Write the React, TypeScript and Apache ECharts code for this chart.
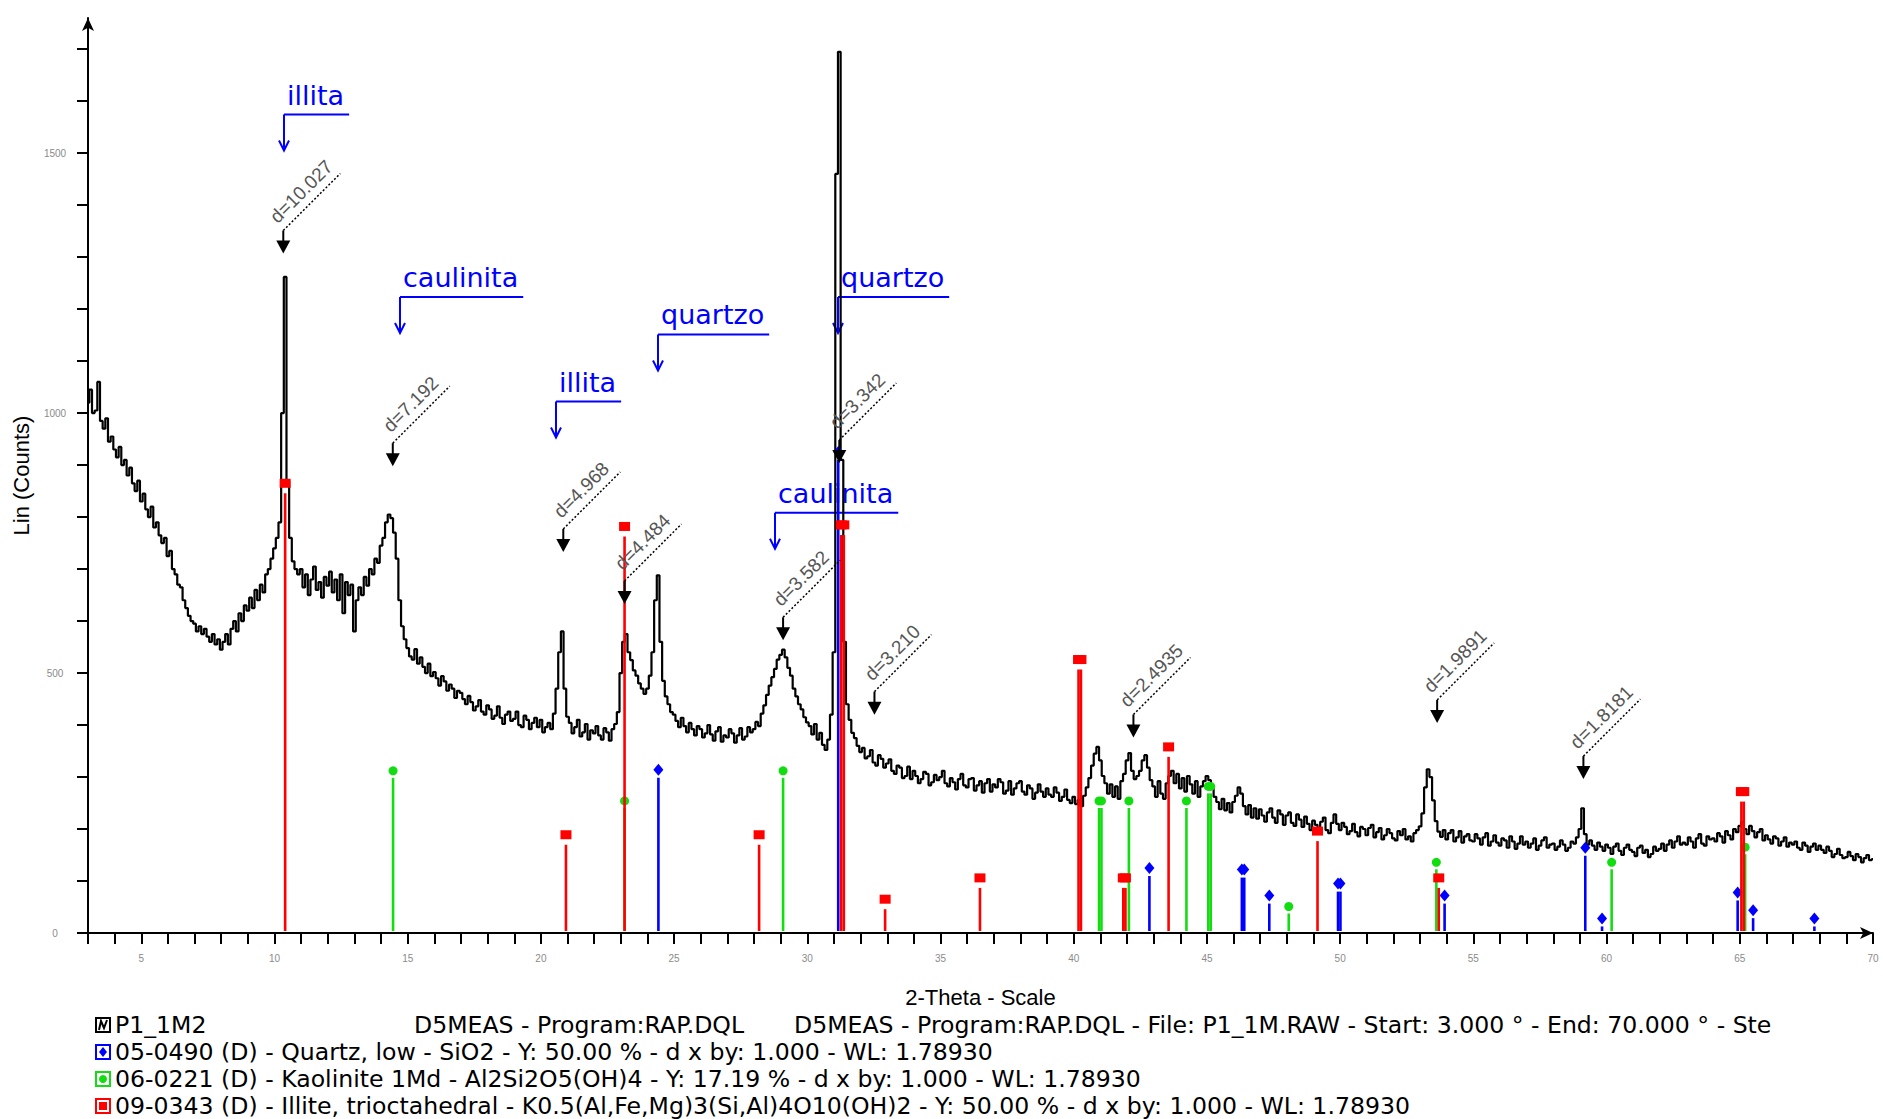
import React, { useEffect, useRef } from "react";
import * as echarts from "echarts";

// ---------- scan (diffractogram) ----------
const SCAN_START = 3.0;
const SCAN_STEP = 0.1;
const PATTERN_COUNTS = [
  1020, 1045, 1000, 1005, 1060, 985, 970, 990, 945, 955,
  930, 915, 935, 900, 910, 880, 895, 865, 850, 870,
  830, 845, 815, 800, 820, 780, 790, 765, 750, 760,
  725, 735, 700, 690, 670, 665, 640, 625, 610, 600,
  595, 580, 590, 575, 585, 570, 560, 575, 555, 565,
  545, 560, 575, 555, 585, 600, 580, 615, 600, 630,
  620, 645, 625, 660, 640, 670, 655, 690, 700, 720,
  740, 760, 790, 1000, 1262, 870, 760, 715, 700, 690,
  700, 665, 690, 650, 680, 705, 660, 675, 645, 685,
  668, 695, 655, 680, 640, 690, 615, 675, 650, 670,
  580, 640, 665, 650, 685, 668, 700, 690, 720, 712,
  745, 760, 790, 805, 798, 770, 720, 640, 590, 565,
  548, 532, 526, 546, 518, 530, 512, 500, 518, 494,
  502, 490, 476, 494, 484, 466, 478, 470, 452, 466,
  462, 450, 440, 456, 444, 428, 436, 448, 426, 420,
  438, 430, 412, 418, 436, 414, 402, 420, 426, 408,
  412, 426, 400, 396, 418, 410, 392, 404, 414, 396,
  410, 386, 396, 404, 392, 422, 470, 540, 580, 470,
  416, 404, 384, 396, 410, 378, 386, 402, 372, 390,
  384, 398, 380, 372, 394, 386, 370, 392, 402, 425,
  500, 560, 575, 540, 525, 505, 495, 480, 470, 460,
  470, 495, 540, 640, 688, 560, 485, 455, 440, 425,
  420, 408, 396, 414, 398, 386, 404, 392, 380, 398,
  392, 376, 384, 400, 382, 370, 388, 396, 368, 380,
  376, 392, 384, 366, 380, 394, 372, 378, 396, 386,
  392, 406, 398, 422, 438, 458, 476, 492, 508, 526,
  535, 545, 530, 510, 495, 470, 455, 440, 430, 415,
  405, 398, 382, 402, 372, 385, 362, 352, 372, 420,
  540, 1460, 1695, 910, 560, 440, 410, 385, 375, 360,
  348, 356, 336, 340, 352, 328, 322, 342, 335, 318,
  326, 334, 312, 306, 322, 318, 298, 302, 320, 296,
  312, 302, 288, 296, 310, 306, 284, 290, 304, 294,
  300, 312, 288, 282, 298, 290, 276, 296, 306, 284,
  280, 296, 298, 274, 284, 292, 270, 288, 296, 272,
  286, 280, 296, 290, 268, 274, 292, 266, 278, 288,
  292, 272, 266, 284, 278, 258, 270, 286, 272, 262,
  278, 266, 262, 280, 270, 254, 262, 276, 256, 250,
  262, 248, 256, 244, 264, 280, 298, 322, 345, 358,
  332, 302, 288, 268, 286, 262, 282, 258, 292, 306,
  332, 346, 312, 296, 302, 312, 332, 342, 318, 294,
  282, 262, 292, 268, 258, 288, 302, 312, 288, 306,
  278, 298, 272, 302, 286, 268, 292, 262, 282, 292,
  302, 294, 278, 262, 252, 238, 258, 236, 250, 232,
  252, 264, 280, 268, 244, 228, 246, 222, 240, 220,
  238, 226, 214, 232, 240, 222, 212, 236, 228, 208,
  226, 232, 212, 206, 228, 218, 204, 224, 210, 198,
  216, 208, 196, 214, 222, 198, 192, 212, 228, 210,
  198, 212, 204, 190, 196, 210, 194, 186, 204, 200,
  188, 202, 208, 184, 194, 202, 180, 188, 200, 192,
  182, 178, 196, 188, 200, 180, 186, 176, 192, 198,
  205, 230, 280, 315, 300, 255, 215, 195, 185, 198,
  180, 192, 198, 176, 184, 196, 174, 186, 190, 178,
  176, 190, 182, 170, 184, 192, 168, 176, 188, 174,
  168, 182, 178, 164, 186, 176, 162, 172, 186, 170,
  176, 164, 172, 182, 160, 168, 178, 184, 164, 170,
  172, 160, 166, 178, 170, 158, 164, 176, 172, 184,
  200, 240, 190, 170, 178, 168, 160, 174, 166, 158,
  170, 164, 152, 166, 172, 158, 150, 164, 170, 160,
  156, 148, 164, 168, 154, 160, 146, 152, 166, 158,
  162, 172, 158, 170, 178, 164, 176, 186, 170, 174,
  170, 184, 176, 164, 182, 190, 172, 168, 186, 180,
  182, 176, 192, 186, 174, 196, 188, 180, 200, 194,
  206, 214, 200, 190, 206, 196, 184, 194, 200, 178,
  188, 180, 172, 186, 182, 168, 176, 184, 166, 174,
  170, 176, 164, 160, 174, 168, 156, 166, 172, 160,
  168, 160, 154, 166, 158, 146, 152, 162, 150, 144,
  146, 156, 148, 140, 152, 146, 136, 144, 150, 140,
  142,
];

// ---------- reference patterns (stick lines) ----------
const QUARTZ_THETA = [24.41, 31.16, 42.84, 46.31, 46.4, 47.34, 49.92, 50.01, 53.92, 59.2, 59.83, 64.92, 65.5, 67.8];
const QUARTZ_INT = [314, 925, 125, 122, 122, 72, 95, 95, 72, 164, 28, 78, 44, 28];

const KAOLINITE_THETA = [14.45, 23.14, 29.09, 40.95, 41.04, 42.07, 44.23, 45.05, 45.14, 48.07, 53.61, 60.19, 65.2];
const KAOLINITE_INT = [312, 254, 312, 254, 254, 254, 254, 282, 282, 51, 136, 136, 165];

const ILLITE_THETA = [10.4, 20.94, 23.14, 28.19, 31.27, 31.37, 32.92, 36.48, 40.18, 40.27, 41.86, 41.94, 43.56, 49.15, 53.7, 65.06, 65.15];
const ILLITE_INT = [865, 189, 782, 189, 785, 785, 65, 106, 526, 526, 106, 106, 358, 196, 106, 272, 272];

// ---------- d-spacing peak labels ----------
const D_THETA = [10.33, 14.44, 20.84, 23.14, 29.09, 31.2, 32.52, 42.24, 53.64, 59.13];
const D_COUNTS = [1307, 898, 733, 633, 563, 904, 420, 376, 404, 296];
const D_LABELS = ["d=10.027", "d=7.192", "d=4.968", "d=4.484", "d=3.582", "d=3.342", "d=3.210", "d=2.4935", "d=1.9891", "d=1.8181"];

// ---------- mineral annotations ----------
const ANN_THETA = [10.35, 14.72, 24.41, 20.58, 31.17, 28.78];
const ANN_COUNTS = [1505, 1154, 1082, 953, 1154, 739];
const ANN_LABELS = ["illita", "caulinita", "quartzo", "illita", "quartzo", "caulinita"];

// ---------- axes ----------
const X_MIN = 3;
const X_MAX = 70;
const X_LABELS = [5, 10, 15, 20, 25, 30, 35, 40, 45, 50, 55, 60, 65, 70];
const Y_MAX = 1760;
const Y_LABELS = [0, 500, 1000, 1500];
const Y_TICKS = [0, 100, 200, 300, 400, 500, 600, 700, 800, 900, 1000, 1100, 1200, 1300, 1400, 1500, 1600, 1700];

// ---------- legend ----------
const LEGEND_SCAN = ["P1_1M2", "D5MEAS - Program:RAP.DQL", "D5MEAS - Program:RAP.DQL - File: P1_1M.RAW - Start: 3.000 ° - End: 70.000 ° - Ste"];
const LEGEND_PHASES = [
  "05-0490 (D) - Quartz, low - SiO2 - Y: 50.00 % - d x by: 1.000 - WL: 1.78930",
  "06-0221 (D) - Kaolinite 1Md - Al2Si2O5(OH)4 - Y: 17.19 % - d x by: 1.000 - WL: 1.78930",
  "09-0343 (D) - Illite, trioctahedral - K0.5(Al,Fe,Mg)3(Si,Al)4O10(OH)2 - Y: 50.00 % - d x by: 1.000 - WL: 1.78930",
];

const BLUE = "#0000ff";
const GREEN = "#11dd11";
const RED = "#ff0000";
const ANN_FONT_SIZE = 27;
const ANN_FONT_FAMILY = "DejaVu Sans";

let measureCtx: CanvasRenderingContext2D | null = null;
function measure(text: string): number {
  if (!measureCtx) measureCtx = document.createElement("canvas").getContext("2d");
  if (!measureCtx) return text.length * 13;
  measureCtx.font = `${ANN_FONT_SIZE}px "${ANN_FONT_FAMILY}"`;
  return measureCtx.measureText(text).width;
}

function stickItem(color: string, marker: "square" | "diamond" | "circle") {
  return (_params: any, api: any) => {
    const th = api.value(0);
    const v = api.value(1);
    const top = api.coord([th, v]);
    const base = api.coord([th, 0]);
    const gap = marker === "square" ? 10 : marker === "diamond" ? 8 : 7;
    const children: any[] = [];
    if (base[1] - 2 > top[1] + gap) {
      children.push({
        type: "line",
        shape: { x1: top[0], y1: top[1] + gap, x2: base[0], y2: base[1] - 2 },
        style: { stroke: color, lineWidth: 2.6 },
      });
    }
    if (marker === "square") {
      children.push({ type: "rect", shape: { x: top[0] - 5.5, y: top[1] - 4.5, width: 11, height: 9 }, style: { fill: color } });
    } else if (marker === "diamond") {
      children.push({
        type: "polygon",
        shape: { points: [[top[0], top[1] - 6], [top[0] + 5, top[1]], [top[0], top[1] + 6], [top[0] - 5, top[1]]] },
        style: { fill: color },
      });
    } else {
      children.push({ type: "circle", shape: { cx: top[0], cy: top[1], r: 4.5 }, style: { fill: color } });
    }
    return { type: "group", children };
  };
}

function dLabelItem(_params: any, api: any) {
  const tip = api.coord([api.value(0), api.value(1)]);
  const label = D_LABELS[api.value(2)];
  const x = tip[0];
  const ty = tip[1];
  const sy = ty - 23;
  return {
    type: "group",
    children: [
      { type: "line", shape: { x1: x, y1: sy, x2: x, y2: ty - 12 }, style: { stroke: "#000", lineWidth: 2 } },
      { type: "polygon", shape: { points: [[x - 7, ty - 13], [x + 7, ty - 13], [x, ty]] }, style: { fill: "#000" } },
      { type: "line", shape: { x1: x, y1: sy, x2: x + 57, y2: sy - 57 }, style: { stroke: "#000", lineWidth: 1.5, lineDash: [2, 2] } },
      {
        type: "text",
        x: x + 18,
        y: sy - 39,
        rotation: Math.PI / 4,
        style: { text: label, fontSize: 19, fontFamily: "Liberation Sans", fill: "#555", align: "center", verticalAlign: "middle" },
      },
    ],
  };
}

function annItem(_params: any, api: any) {
  const tip = api.coord([api.value(0), api.value(1)]);
  const label = ANN_LABELS[api.value(2)];
  const w = measure(label) + 8;
  const x = Math.round(tip[0]);
  const ty = tip[1];
  const uy = ty - 36;
  return {
    type: "group",
    children: [
      { type: "line", shape: { x1: x, y1: uy, x2: x + w, y2: uy }, style: { stroke: BLUE, lineWidth: 2 } },
      { type: "line", shape: { x1: x, y1: uy, x2: x, y2: ty }, style: { stroke: BLUE, lineWidth: 2 } },
      { type: "polyline", shape: { points: [[x - 5, ty - 10], [x, ty], [x + 5, ty - 10]] }, style: { stroke: BLUE, lineWidth: 2, fill: "none" } },
      {
        type: "text",
        x: x + 3,
        y: uy - 6,
        style: { text: label, fontSize: ANN_FONT_SIZE, fontFamily: ANN_FONT_FAMILY, fill: BLUE, align: "left", verticalAlign: "bottom" },
      },
    ],
  };
}

function buildLegend(): any[] {
  const rowsY = [1025, 1052, 1079, 1106];
  const font = { fontSize: 23.6, fontFamily: "DejaVu Sans" };
  const els: any[] = [];
  const iconX = 96;
  const textX = 115;
  const c0 = rowsY[0];
  els.push({ type: "rect", shape: { x: iconX, y: c0 - 7, width: 14, height: 14 }, style: { fill: "#fff", stroke: "#000", lineWidth: 2 } });
  els.push({ type: "polyline", shape: { points: [[iconX + 3, c0 + 5], [iconX + 5, c0 - 4], [iconX + 8, c0 + 3], [iconX + 11, c0 - 5]] }, style: { stroke: "#000", lineWidth: 2, fill: "none" } });
  els.push({ type: "text", x: textX, y: c0, style: { text: LEGEND_SCAN[0], ...font, fill: "#000", verticalAlign: "middle" } });
  els.push({ type: "text", x: 414, y: c0, style: { text: LEGEND_SCAN[1], ...font, fill: "#000", verticalAlign: "middle" } });
  els.push({ type: "text", x: 794, y: c0, style: { text: LEGEND_SCAN[2], ...font, fill: "#000", verticalAlign: "middle" } });
  const colors = [BLUE, GREEN, RED];
  LEGEND_PHASES.forEach((t, i) => {
    const c = rowsY[i + 1];
    const col = colors[i];
    els.push({ type: "rect", shape: { x: iconX, y: c - 7, width: 14, height: 14 }, style: { fill: "#fff", stroke: col, lineWidth: 2 } });
    if (i === 0) {
      els.push({ type: "polygon", shape: { points: [[iconX + 7, c - 5], [iconX + 11, c], [iconX + 7, c + 5], [iconX + 3, c]] }, style: { fill: col } });
    } else if (i === 1) {
      els.push({ type: "circle", shape: { cx: iconX + 7, cy: c, r: 4 }, style: { fill: col } });
    } else {
      els.push({ type: "rect", shape: { x: iconX + 3, y: c - 4, width: 8, height: 8 }, style: { fill: col } });
    }
    els.push({ type: "text", x: textX, y: c, style: { text: t, ...font, fill: "#000", verticalAlign: "middle" } });
  });
  return els;
}

function buildOption(): any {
  const xTicks: number[] = [];
  for (let t = X_MIN; t <= X_MAX; t += 1) xTicks.push(t);
  const pattern = PATTERN_COUNTS.map((c, i) => [Number((SCAN_START + i * SCAN_STEP).toFixed(2)), c]);
  const sticks = (th: number[], v: number[]) => th.map((t, i) => [t, v[i]]);
  const labelled = (th: number[], v: number[]) => th.map((t, i) => [t, v[i], i]);
  const labelStyle = { color: "#8a8a8a", fontSize: 10, fontFamily: "Liberation Sans", formatter: (v: number) => String(v) };
  return {
    animation: false,
    backgroundColor: "#ffffff",
    grid: { left: 88, right: 10, top: 18, bottom: 186 },
    xAxis: {
      type: "value",
      min: X_MIN,
      max: X_MAX,
      name: "2-Theta - Scale",
      nameLocation: "middle",
      nameGap: 53,
      nameTextStyle: { color: "#000", fontSize: 22, fontFamily: "Liberation Sans" },
      axisLine: { show: true, symbol: ["none", "arrow"], symbolSize: [9, 13], lineStyle: { color: "#000", width: 2 } },
      axisTick: { show: true, customValues: xTicks, length: 11, lineStyle: { color: "#000", width: 2 } },
      axisLabel: { customValues: X_LABELS, margin: 20, ...labelStyle },
      splitLine: { show: false },
    },
    yAxis: {
      type: "value",
      min: 0,
      max: Y_MAX,
      name: "Lin (Counts)",
      nameLocation: "middle",
      nameGap: 47,
      nameTextStyle: { color: "#000", fontSize: 22, fontFamily: "Liberation Sans" },
      axisLine: { show: true, symbol: ["none", "arrow"], symbolSize: [9, 13], lineStyle: { color: "#000", width: 2 } },
      axisTick: { show: true, customValues: Y_TICKS, length: 11, lineStyle: { color: "#000", width: 2 } },
      axisLabel: { customValues: Y_LABELS, margin: 33, align: "center", ...labelStyle },
      splitLine: { show: false },
    },
    series: [
      { type: "custom", name: "annotations", z: 1, silent: true, clip: false, data: labelled(ANN_THETA, ANN_COUNTS), renderItem: annItem },
      {
        type: "line",
        name: "P1_1M2",
        z: 2,
        silent: true,
        data: pattern,
        step: "middle",
        symbol: "none",
        showSymbol: false,
        lineStyle: { color: "#000", width: 2.2 },
      },
      { type: "custom", name: "Kaolinite", z: 3, silent: true, clip: false, data: sticks(KAOLINITE_THETA, KAOLINITE_INT), renderItem: stickItem(GREEN, "circle") },
      { type: "custom", name: "Quartz", z: 4, silent: true, clip: false, data: sticks(QUARTZ_THETA, QUARTZ_INT), renderItem: stickItem(BLUE, "diamond") },
      { type: "custom", name: "Illite", z: 5, silent: true, clip: false, data: sticks(ILLITE_THETA, ILLITE_INT), renderItem: stickItem(RED, "square") },
      { type: "custom", name: "d-spacings", z: 6, silent: true, clip: false, data: labelled(D_THETA, D_COUNTS), renderItem: dLabelItem },
    ],
    graphic: buildLegend(),
  };
}

export default function App() {
  const ref = useRef<HTMLDivElement>(null);
  useEffect(() => {
    if (!ref.current) return;
    const chart = echarts.init(ref.current, null, { renderer: "svg" });
    chart.setOption(buildOption());
    return () => chart.dispose();
  }, []);
  return <div ref={ref} style={{ position: "absolute", left: 0, top: 0, width: 1883, height: 1119, background: "#fff" }} />;
}
